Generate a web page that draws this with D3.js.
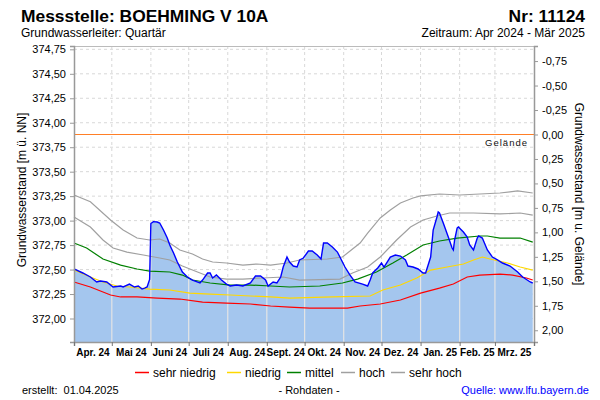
<!DOCTYPE html>
<html><head><meta charset="utf-8">
<script src="https://cdn.jsdelivr.net/npm/d3@7"></script>
<style>
body{margin:0;background:#fff;}
svg{display:block;font-family:"Liberation Sans",Arial,sans-serif;}
</style></head><body>
<svg id="chart" width="600" height="400"></svg>
<script>
// ---------- data ----------
const titel = "Messstelle: BOEHMING V 10A";
const nummer = "Nr: 11124";
const untertitel = "Grundwasserleiter: Quartär";
const zeitraum = "Zeitraum: Apr 2024 - Mär 2025";
const gelaende = 373.88;
const ticksNN = [374.75, 374.50, 374.25, 374.00, 373.75, 373.50, 373.25, 373.00, 372.75, 372.50, 372.25, 372.00];
const ticksGelaende = [-0.75, -0.50, -0.25, 0.00, 0.25, 0.50, 0.75, 1.00, 1.25, 1.50, 1.75, 2.00];
const monatsLabels = ["Apr. 24","Mai 24","Juni 24","Juli 24","Aug. 24","Sept. 24","Okt. 24","Nov. 24","Dez. 24","Jan. 25","Feb. 25","Mrz. 25"];
const legendeNamen = ["sehr niedrig","niedrig","mittel","hoch","sehr hoch"];
const legendeFarben = ["#ff0000","#ffd800","#008000","#a0a0a0","#a0a0a0"];

const messwerte = [
["2024-04-01",372.506],["2024-04-08",372.465],["2024-04-14",372.424],["2024-04-19",372.373],
["2024-04-22",372.383],["2024-04-27",372.373],["2024-05-02",372.322],["2024-05-08",372.332],
["2024-05-10",372.322],["2024-05-15",372.352],["2024-05-19",372.322],["2024-05-22",372.332],
["2024-05-25",372.301],["2024-05-27",372.311],["2024-05-29",372.322],["2024-05-31",372.40],
["2024-06-01",372.97],["2024-06-03",372.99],["2024-06-06",372.986],["2024-06-08",372.976],
["2024-06-11",372.904],["2024-06-14",372.822],["2024-06-16",372.751],["2024-06-19",372.669],
["2024-06-22",372.577],["2024-06-26",372.475],["2024-06-30",372.424],["2024-07-04",372.393],
["2024-07-10",372.363],["2024-07-12",372.393],["2024-07-16",372.465],["2024-07-18",372.465],
["2024-07-20",372.414],["2024-07-23",372.444],["2024-07-27",372.393],["2024-07-31",372.352],
["2024-08-03",372.332],["2024-08-08",372.342],["2024-08-13",372.332],["2024-08-19",372.363],
["2024-08-23",372.434],["2024-08-27",372.434],["2024-08-31",372.393],["2024-09-02",372.332],
["2024-09-06",372.373],["2024-09-09",372.363],["2024-09-12",372.424],["2024-09-14",372.526],
["2024-09-17",372.628],["2024-09-19",372.577],["2024-09-22",372.536],["2024-09-25",372.526],
["2024-09-27",372.598],["2024-09-30",372.618],["2024-10-04",372.690],["2024-10-07",372.690],
["2024-10-11",372.649],["2024-10-14",372.608],["2024-10-16",372.771],["2024-10-19",372.771],
["2024-10-23",372.730],["2024-10-27",372.679],["2024-10-29",372.628],["2024-11-02",372.526],
["2024-11-06",372.444],["2024-11-10",372.373],["2024-11-16",372.352],["2024-11-20",372.332],
["2024-11-22",372.393],["2024-11-24",372.465],["2024-11-28",372.516],["2024-12-01",372.567],
["2024-12-03",372.526],["2024-12-05",372.567],["2024-12-08",372.628],["2024-12-12",372.649],
["2024-12-16",372.638],["2024-12-20",372.598],["2024-12-22",372.536],["2024-12-26",372.526],
["2024-12-30",372.506],["2025-01-03",372.465],["2025-01-05",372.465],["2025-01-09",372.628],
["2025-01-11",372.904],["2025-01-14",373.037],["2025-01-15",373.088],["2025-01-16",373.078],
["2025-01-19",372.976],["2025-01-23",372.833],["2025-01-26",372.720],["2025-01-27",372.700],
["2025-01-28",372.802],["2025-01-30",372.924],["2025-01-31",372.935],["2025-02-04",372.884],
["2025-02-07",372.833],["2025-02-09",372.751],["2025-02-12",372.700],["2025-02-15",372.822],
["2025-02-16",372.843],["2025-02-19",372.822],["2025-02-23",372.700],["2025-02-27",372.628],
["2025-03-03",372.598],["2025-03-07",372.567],["2025-03-13",372.536],["2025-03-19",372.475],
["2025-03-23",372.424],["2025-03-29",372.373],["2025-03-31",372.363]
];

const sehrNiedrig = [
["2024-04-01",372.373],["2024-04-14",372.322],["2024-04-30",372.240],["2024-05-08",372.220],
["2024-05-21",372.220],["2024-06-06",372.209],["2024-06-24",372.199],["2024-07-12",372.168],
["2024-07-31",372.158],["2024-08-19",372.148],["2024-09-04",372.128],["2024-09-19",372.117],
["2024-10-05",372.107],["2024-11-04",372.107],["2024-11-14",372.128],["2024-11-30",372.148],
["2024-12-16",372.189],["2025-01-01",372.260],["2025-01-16",372.311],["2025-01-27",372.352],
["2025-02-07",372.424],["2025-02-17",372.444],["2025-03-05",372.454],["2025-03-15",372.444],
["2025-03-26",372.414],["2025-03-31",372.393]
];
const niedrig = [
["2024-04-01",372.495],["2024-04-14",372.424],["2024-04-24",372.373],["2024-05-05",372.332],
["2024-05-15",372.322],["2024-05-31",372.301],["2024-06-16",372.291],["2024-07-02",372.260],
["2024-07-18",372.250],["2024-08-03",372.240],["2024-08-19",372.230],["2024-09-04",372.220],
["2024-09-19",372.209],["2024-10-23",372.220],["2024-11-22",372.230],["2024-12-02",372.291],
["2024-12-16",372.342],["2024-12-29",372.414],["2025-01-09",372.495],["2025-01-22",372.526],
["2025-02-04",372.557],["2025-02-12",372.598],["2025-02-19",372.628],["2025-02-25",372.608],
["2025-03-11",372.567],["2025-03-21",372.526],["2025-03-31",372.495]
];
const mittel = [
["2024-04-01",372.771],["2024-04-11",372.720],["2024-04-24",372.608],["2024-05-08",372.546],
["2024-05-21",372.506],["2024-05-31",372.485],["2024-06-16",372.475],["2024-06-26",372.444],
["2024-07-04",372.393],["2024-07-18",372.363],["2024-08-03",372.342],["2024-08-19",372.342],
["2024-09-04",372.332],["2024-09-19",372.322],["2024-10-13",372.332],["2024-10-31",372.363],
["2024-11-12",372.403],["2024-11-27",372.475],["2024-12-10",372.567],["2024-12-21",372.649],
["2025-01-03",372.751],["2025-01-16",372.792],["2025-01-30",372.822],["2025-02-17",372.843],
["2025-02-23",372.843],["2025-03-05",372.822],["2025-03-21",372.822],["2025-03-31",372.781]
];
const hoch = [
["2024-04-01",373.037],["2024-04-14",372.935],["2024-04-24",372.802],["2024-05-02",372.720],
["2024-05-13",372.679],["2024-05-26",372.649],["2024-06-08",372.618],["2024-06-16",372.598],
["2024-06-26",372.536],["2024-07-08",372.475],["2024-07-18",372.424],["2024-07-31",372.403],
["2024-08-13",372.403],["2024-08-29",372.414],["2024-09-14",372.424],["2024-09-27",372.393],
["2024-10-29",372.403],["2024-11-08",372.465],["2024-11-20",372.526],["2024-11-30",372.628],
["2024-12-13",372.802],["2024-12-24",372.935],["2025-01-03",373.006],["2025-01-14",373.047],
["2025-01-24",373.078],["2025-02-12",373.078],["2025-03-05",373.068],["2025-03-21",373.078],
["2025-03-31",373.057]
];
const sehrHoch = [
["2024-04-01",373.262],["2024-04-14",373.193],["2024-04-30",373.006],["2024-05-10",372.904],
["2024-05-21",372.822],["2024-05-31",372.802],["2024-06-08",372.812],["2024-06-16",372.771],
["2024-06-24",372.700],["2024-07-04",372.659],["2024-07-12",372.608],["2024-07-20",372.577],
["2024-07-31",372.567],["2024-08-13",372.546],["2024-08-24",372.557],["2024-09-04",372.546],
["2024-09-17",372.567],["2024-09-27",372.598],["2024-10-19",372.608],["2024-10-31",372.628],
["2024-11-14",372.771],["2024-11-20",372.873],["2024-11-30",373.027],["2024-12-08",373.108],
["2024-12-16",373.180],["2024-12-26",373.231],["2025-01-01",373.252],["2025-01-16",373.272],
["2025-02-01",373.262],["2025-02-17",373.272],["2025-03-05",373.282],["2025-03-19",373.303],
["2025-03-31",373.282]
];

// ---------- chart ----------
const svg = d3.select("#chart");
const parse = d3.utcParse("%Y-%m-%d");
const toPts = arr => arr.map(d => ({date: parse(d[0]), v: d[1]}));

const L = 74, R = 534, T = 46, B = 342;
const start = parse("2024-04-01"), end = parse("2025-04-01");
const x = d3.scaleUtc().domain([start, end]).range([L, R]);
const yMin = 371.76, yMax = 374.784;
const y = d3.scaleLinear().domain([yMin, yMax]).range([B, T]);
const yR = d3.scaleLinear().domain([gelaende - yMin, gelaende - yMax]).range([B, T]);
const komma = f => d => d3.format(f)(d).replace("\u2212", "-").replace(".", ",");

svg.append("rect").attr("width", 600).attr("height", 400).attr("fill", "#fff");

const months = d3.utcMonth.range(start, d3.utcDay.offset(end, 1));

// dashed grid
const grid = svg.append("g");
grid.selectAll(".h").data(ticksNN).join("line")
  .attr("x1", L).attr("x2", R).attr("y1", d => y(d)).attr("y2", d => y(d))
  .attr("stroke", "#d8d8d8").attr("stroke-dasharray", "3,3");
grid.selectAll(".v").data(months.slice(1, -1)).join("line")
  .attr("x1", d => x(d)).attr("x2", d => x(d)).attr("y1", T).attr("y2", B)
  .attr("stroke", "#d8d8d8").attr("stroke-dasharray", "3,3");

// area
const mess = toPts(messwerte);
const area = d3.area().x(d => x(d.date)).y0(B).y1(d => y(d.v));
svg.append("path").datum(mess).attr("d", area).attr("fill", "#a4c6ee");
svg.append("clipPath").attr("id", "areaClip").append("path").datum(mess).attr("d", area);
svg.append("g").attr("clip-path", "url(#areaClip)")
  .selectAll("line").data(months.slice(1, -1)).join("line")
  .attr("x1", d => x(d)).attr("x2", d => x(d)).attr("y1", T).attr("y2", B)
  .attr("stroke", "#e4e4e4").attr("stroke-width", 1.2);

// percentile lines
const line = d3.line().x(d => x(d.date)).y(d => y(d.v));
const reihen = [sehrNiedrig, niedrig, mittel, hoch, sehrHoch];
reihen.forEach((r, i) => {
  svg.append("path").datum(toPts(r)).attr("d", line)
    .attr("fill", "none").attr("stroke", legendeFarben[i]).attr("stroke-width", 1.2);
});

// Gelände
svg.append("line").attr("x1", L).attr("x2", R).attr("y1", y(gelaende)).attr("y2", y(gelaende))
  .attr("stroke", "#ff7f27").attr("stroke-width", 1.2);
svg.append("text").attr("x", 528).attr("y", y(gelaende) + 12).attr("text-anchor", "end")
  .attr("font-size", 9.5).attr("letter-spacing", 1).attr("fill", "#111").text("Gelände");

// measured line
svg.append("path").datum(mess).attr("d", line)
  .attr("fill", "none").attr("stroke", "#0000ff").attr("stroke-width", 1.4);

// frame
svg.append("line").attr("x1", L).attr("x2", R).attr("y1", T + 0.5).attr("y2", T + 0.5).attr("stroke", "#bbb");

// axes
const axL = svg.append("g").attr("transform", `translate(${L},0)`)
  .call(d3.axisLeft(y).tickValues(ticksNN).tickFormat(komma(".2f")).tickSize(4).tickPadding(4));
const axR = svg.append("g").attr("transform", `translate(${R},0)`)
  .call(d3.axisRight(yR).tickValues(ticksGelaende).tickFormat(komma(".2f")).tickSize(4).tickPadding(4));
const axB = svg.append("g").attr("transform", `translate(0,${B})`)
  .call(d3.axisBottom(x).tickValues(months).tickFormat("").tickSize(4));
[axL, axR, axB].forEach(a => {
  a.selectAll("path.domain").attr("stroke", "#999").attr("stroke-width", 1.5);
  a.selectAll(".tick line").attr("stroke", "#999");
  a.selectAll(".tick text").attr("font-size", 11).attr("font-family", "Liberation Sans, Arial, sans-serif").attr("fill", "#000");
});
axB.selectAll(".tick line").attr("stroke", "#777");

// month labels
svg.append("g").selectAll("text").data(months.slice(0, -1)).join("text")
  .attr("x", (d, i) => (x(d) + x(months[i + 1])) / 2).attr("y", 356)
  .attr("text-anchor", "middle").attr("font-size", 10).attr("font-weight", "bold")
  .text((d, i) => monatsLabels[i]);

// axis titles
svg.append("text").attr("transform", "translate(26,190) rotate(-90)").attr("text-anchor", "middle")
  .attr("font-size", 12).text("Grundwasserstand [m ü. NN]");
svg.append("text").attr("transform", "translate(575,194) rotate(90)").attr("text-anchor", "middle")
  .attr("font-size", 12).text("Grundwasserstand [m u. Gelände]");

// titles
svg.append("text").attr("x", 21).attr("y", 22).attr("font-size", 17.4).attr("font-weight", "bold").text(titel);
svg.append("text").attr("x", 585).attr("y", 22).attr("text-anchor", "end").attr("font-size", 17.4).attr("font-weight", "bold").text(nummer);
svg.append("text").attr("x", 21).attr("y", 37).attr("font-size", 12).text(untertitel);
svg.append("text").attr("x", 585).attr("y", 37).attr("text-anchor", "end").attr("font-size", 12).text(zeitraum);

// legend
const legX = [135, 227, 287, 341, 391];
const leg = svg.append("g");
legendeNamen.forEach((n, i) => {
  leg.append("line").attr("x1", legX[i]).attr("x2", legX[i] + 14).attr("y1", 372.5).attr("y2", 372.5)
    .attr("stroke", legendeFarben[i]).attr("stroke-width", 1.5);
  leg.append("text").attr("x", legX[i] + 18).attr("y", 377).attr("font-size", 12).text(n);
});

// footer
svg.append("text").attr("x", 22).attr("y", 394).attr("font-size", 11).attr("xml:space", "preserve")
  .style("white-space", "pre").text("erstellt:  01.04.2025");
svg.append("text").attr("x", 309).attr("y", 394).attr("text-anchor", "middle").attr("font-size", 11).text("- Rohdaten -");
svg.append("text").attr("x", 589).attr("y", 394).attr("text-anchor", "end").attr("font-size", 11).attr("fill", "#0000ff").text("Quelle: www.lfu.bayern.de");
</script>
</body></html>
